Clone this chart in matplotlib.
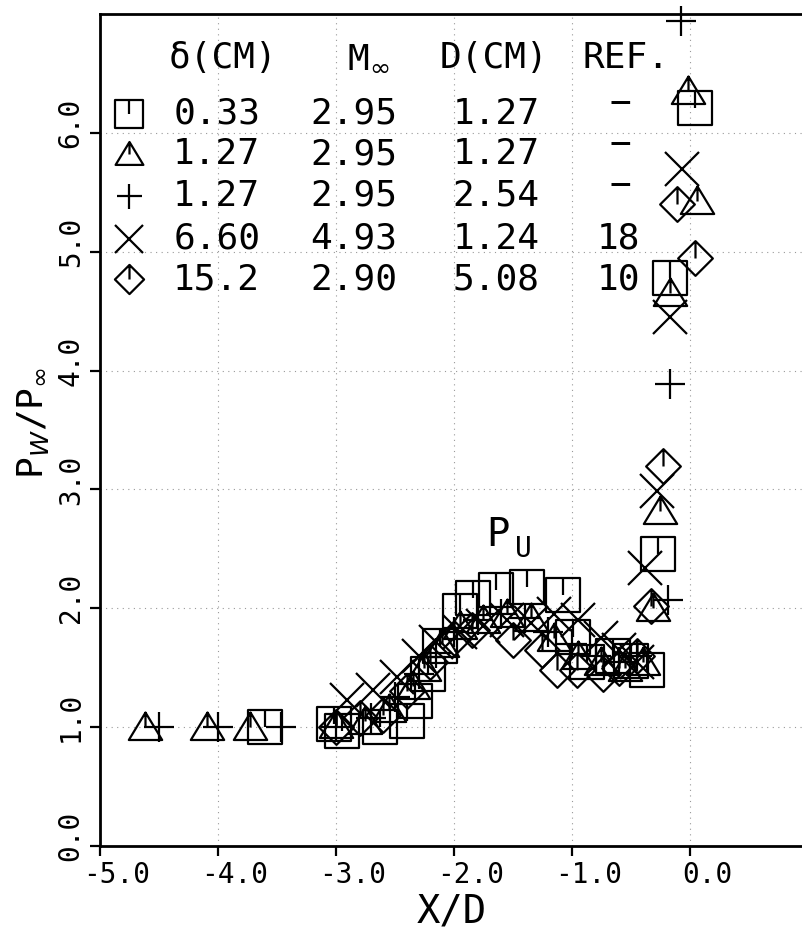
import matplotlib.pyplot as plt
from matplotlib.path import Path
from matplotlib.transforms import ScaledTranslation

plt.rcParams['font.family'] = ['DejaVu Sans Mono', 'DejaVu Sans']
plt.rcParams['mathtext.fontset'] = 'dejavusans'

# delta = 0.33 cm, M = 2.95, D = 1.27 cm (squares)
sq_x = [-3.60, -3.02, -2.95, -2.63, -2.40, -2.33, -2.22, -2.12, -1.95, -1.84,
        -1.64, -1.38, -1.08, -0.99, -0.87, -0.65, -0.50, -0.36, -0.27, -0.17, 0.04]
sq_y = [1.00, 1.03, 0.97, 1.00, 1.05, 1.22, 1.45, 1.68, 1.98, 2.09,
        2.15, 2.18, 2.11, 1.76, 1.55, 1.60, 1.56, 1.48, 2.46, 4.78, 6.21]

# delta = 1.27 cm, M = 2.95, D = 1.27 cm (triangles)
tri_x = [-4.62, -4.09, -3.73, -3.00, -2.75, -2.55, -2.35, -2.25, -2.10, -1.95,
         -1.75, -1.55, -1.35, -1.15, -0.95, -0.75, -0.55, -0.40, -0.31, -0.25,
         -0.17, 0.06, -0.02]
tri_y = [1.00, 1.00, 1.00, 1.02, 1.05, 1.15, 1.35, 1.50, 1.70, 1.85,
         1.90, 1.95, 1.92, 1.75, 1.60, 1.55, 1.50, 1.55, 2.00, 2.82,
         4.65, 5.43, 6.35]

# delta = 1.27 cm, M = 2.95, D = 2.54 cm (plus)
pl_x = [-4.50, -4.00, -3.47, -3.00, -2.70, -2.50, -2.30, -2.15, -2.00, -1.80,
        -1.60, -1.40, -1.20, -1.00, -0.80, -0.60, -0.45, -0.19, -0.17, -0.08]
pl_y = [1.00, 1.00, 1.00, 1.00, 1.08, 1.25, 1.45, 1.62, 1.80, 1.90,
        1.95, 1.92, 1.80, 1.70, 1.60, 1.55, 1.60, 2.07, 3.89, 6.94]

# delta = 6.60 cm, M = 4.93, D = 1.24 cm (x), ref 18
cr_x = [-2.91, -2.69, -2.48, -2.30, -2.15, -1.95, -1.75, -1.55, -1.35, -1.15,
        -0.95, -0.75, -0.60, -0.45, -0.38, -0.28, -0.17, -0.07]
cr_y = [1.23, 1.31, 1.42, 1.60, 1.72, 1.80, 1.85, 1.90, 1.88, 1.95,
        1.90, 1.75, 1.65, 1.55, 2.34, 2.99, 4.45, 5.70]

# delta = 15.2 cm, M = 2.90, D = 5.08 cm (diamonds), ref 10
dm_x = [-3.00, -2.80, -2.60, -2.40, -2.20, -2.00, -1.85, -1.50, -1.25, -1.13,
        -0.96, -0.74, -0.60, -0.45, -0.33, -0.23, -0.11, 0.04]
dm_y = [1.00, 1.08, 1.10, 1.30, 1.55, 1.75, 1.82, 1.73, 1.65, 1.48,
        1.48, 1.45, 1.50, 1.60, 2.02, 3.20, 5.40, 4.95]

table_rows = [
    ["0.33", "2.95", "1.27", "-"],
    ["1.27", "2.95", "1.27", "-"],
    ["1.27", "2.95", "2.54", "-"],
    ["6.60", "4.93", "1.24", "18"],
    ["15.2", "2.90", "5.08", "10"],
]

M, L, C = Path.MOVETO, Path.LINETO, Path.CLOSEPOLY
square_m = Path([(-1, -1), (1, -1), (1, 1), (-1, 1), (-1, -1), (0, 1), (0, 0)],
                [M, L, L, L, C, M, L])
tri_m = Path([(-1, -0.75), (1, -0.75), (0, 0.9), (-1, -0.75), (0, 0.9), (0, 0)],
             [M, L, L, C, M, L])
diam_m = Path([(0, 1), (1, 0), (0, -1), (-1, 0), (0, 1), (0, 1), (0, 0)],
              [M, L, L, L, C, M, L])

series = [
    (sq_x, sq_y, square_m, 24),
    (tri_x, tri_y, tri_m, 24),
    (pl_x, pl_y, '+', 22),
    (cr_x, cr_y, 'x', 24),
    (dm_x, dm_y, diam_m, 25),
]

fig = plt.figure(figsize=(8.03, 9.38), dpi=100)
ax = fig.add_axes([100 / 803, 92 / 938, 703 / 803, 832 / 938])

for xs, ys, mk, ms in series:
    ax.plot(xs, ys, linestyle='none', marker=mk, markersize=ms,
            markerfacecolor='none', markeredgecolor='black',
            markeredgewidth=1.6, clip_on=False, zorder=3)

ax.set_xlim(-5.0, 0.958)
ax.set_ylim(0.0, 7.0)
ax.set_xticks([-5, -4, -3, -2, -1, 0])
ax.set_xticklabels(["-5.0", "-4.0", "-3.0", "-2.0", "-1.0", "0.0"])
ax.set_yticks([0, 1, 2, 3, 4, 5, 6])
ax.set_yticklabels(["0.0", "1.0", "2.0", "3.0", "4.0", "5.0", "6.0"],
                   rotation=90, va='center')
ax.tick_params(direction='out', length=7, width=1.6, labelsize=20, pad=4)
for lab in ax.get_xticklabels():
    lab.set_transform(lab.get_transform() +
                      ScaledTranslation(0.17, 0, fig.dpi_scale_trans))
for lab in ax.get_yticklabels():
    lab.set_transform(lab.get_transform() +
                      ScaledTranslation(0, 0.1, fig.dpi_scale_trans))

ax.grid(True, color='0.6', linestyle=(0, (1, 4)), linewidth=0.8)
ax.spines['right'].set_visible(False)
for s in ['left', 'bottom', 'top']:
    ax.spines[s].set_linewidth(2.0)

ax.set_xlabel("X/D", fontsize=28, labelpad=2)
fig.text(33 / 803, 1 - 423 / 938, r"P$_W$/P$_\infty$", rotation=90,
         fontsize=26, ha='center', va='center')

# table of cases
head_y = 6.63
row_y = [6.16, 5.82, 5.47, 5.11, 4.77]
fs = 26
ax.text(-4.42, head_y, "δ(CM)", fontsize=fs, va='center')
ax.text(-2.91, head_y, r"M$_\infty$", fontsize=fs, va='center')
ax.text(-2.12, head_y, "D(CM)", fontsize=fs, va='center')
ax.text(-0.91, head_y, "REF.", fontsize=fs, va='center')
for (xs, ys, mk, ms), yy, row in zip(series, row_y, table_rows):
    ax.plot([-4.75], [yy], linestyle='none', marker=mk, markersize=ms - 4,
            markerfacecolor='none', markeredgecolor='black',
            markeredgewidth=1.6)
    ax.text(-4.38, yy, row[0], fontsize=fs, va='center')
    ax.text(-3.22, yy, row[1], fontsize=fs, va='center')
    ax.text(-2.01, yy, row[2], fontsize=fs, va='center')
    if row[3] == "-":
        ax.text(-0.59, yy + 0.08, "−", fontsize=fs, va='center', ha='center')
    else:
        ax.text(-0.79, yy, row[3], fontsize=fs, va='center')

ax.text(-1.63, 2.62, "P", fontsize=28, ha='center', va='center')
ax.text(-1.41, 2.50, "U", fontsize=20, ha='center', va='center')

plt.savefig("out.png", dpi=100)
